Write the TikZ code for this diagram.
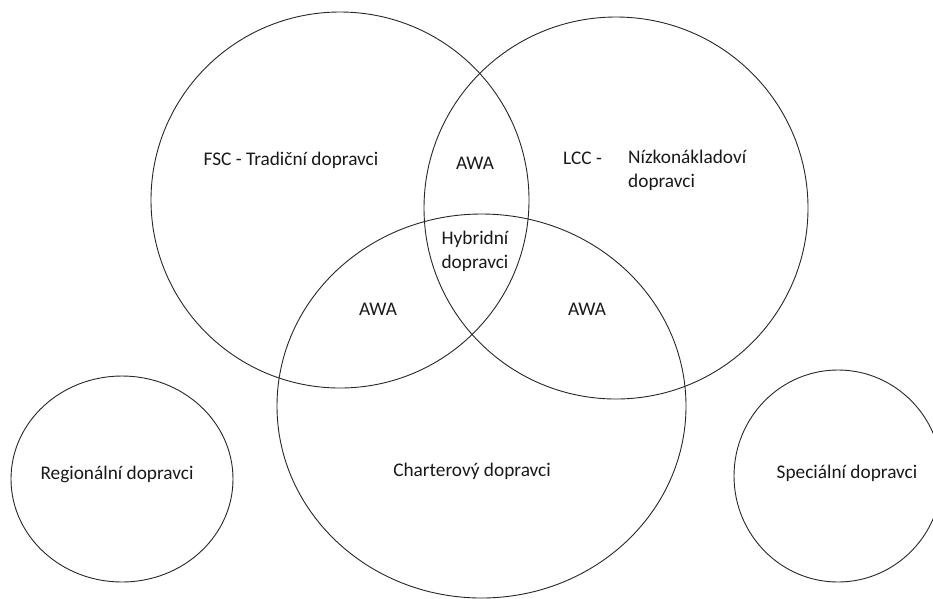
\documentclass[tikz,border=0pt]{standalone}
\usepackage{fontspec}
\setmainfont{Carlito}
\begin{document}
\begin{tikzpicture}[x=1pt,y=-1pt,
  set/.style={draw=black!85,line width=0.9pt},
  lbl/.style={font=\fontsize{19.3}{24}\selectfont,text=black!90,inner sep=0pt}]
\useasboundingbox (0,0) rectangle (933,598);
\begin{scope}
\clip (0,0) rectangle (933,598);
\draw[set] (340,200) ellipse [x radius=189,y radius=188];
\draw[set] (616,208) ellipse [x radius=192,y radius=191];
\draw[set] (481.5,406) ellipse [x radius=204.5,y radius=192];
\draw[set] (122,479) ellipse [x radius=111,y radius=103];
\draw[set] (838,476) ellipse [x radius=104,y radius=106];
\end{scope}
\node[lbl] (fsc) at (291,160) {FSC - Tradiční dopravci};
\node[lbl] (awa1) at (475,163) {AWA};
\node[lbl,anchor=west] (lcc) at (563,158) {LCC -};
\node[lbl,anchor=west,align=left] (nizko) at (628,170) {Nízkonákladoví\\dopravci};
\node[lbl,align=center] (hyb) at (475,251) {Hybridní\\dopravci};
\node[lbl] (awa2) at (378,309) {AWA};
\node[lbl] (awa3) at (587,309) {AWA};
\node[lbl] (charter) at (472,471) {Charterový dopravci};
\node[lbl] (reg) at (117,474) {Regionální dopravci};
\node[lbl] (spec) at (847,473) {Speciální dopravci};
\end{tikzpicture}
\end{document}
